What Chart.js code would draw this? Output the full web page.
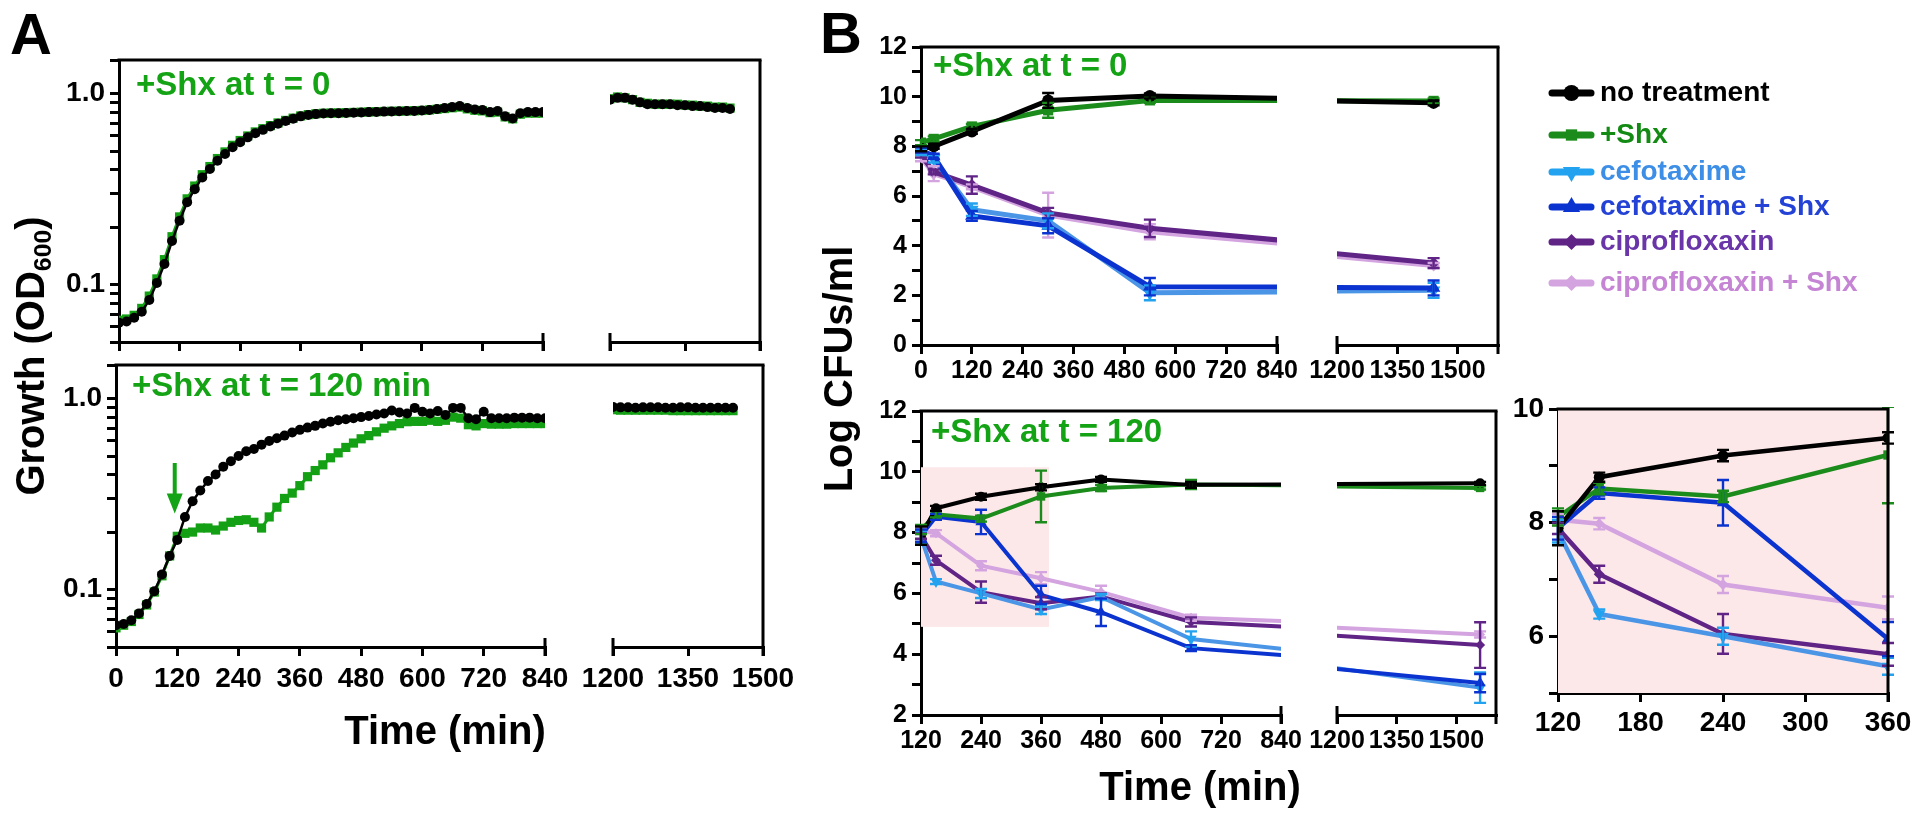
<!DOCTYPE html>
<html>
<head>
<meta charset="utf-8">
<script src="https://cdn.jsdelivr.net/npm/chart.js@4.4.0/dist/chart.umd.min.js"></script>
<style>
html, body { margin: 0; padding: 0; background: #fff; }
#wrap { position: relative; width: 1920px; height: 819px; overflow: hidden; }
#wrap canvas { position: absolute; left: 0; top: 0; }
.lbl { position: absolute; font-family: "Liberation Sans", Arial, sans-serif; font-weight: bold; white-space: nowrap; line-height: 1; }
.green { color: #14a314; }
</style>
</head>
<body>
<div id="wrap">
  <canvas id="aTop1"></canvas><canvas id="aTop2"></canvas>
  <canvas id="aBot1"></canvas><canvas id="aBot2"></canvas>
  <canvas id="bTop1"></canvas><canvas id="bTop2"></canvas>
  <canvas id="bBot1"></canvas><canvas id="bBot2"></canvas>
  <canvas id="inset"></canvas>

  <div class="lbl" style="left:10px;top:34px;font-size:58px;transform:translateY(-50%)">A</div>
  <div class="lbl" style="left:820px;top:33px;font-size:58px;transform:translateY(-50%)">B</div>
  <div class="lbl green" style="left:136px;top:83px;font-size:33px;transform:translateY(-50%)">+Shx at t = 0</div>
  <div class="lbl green" style="left:132px;top:384px;font-size:33px;transform:translateY(-50%)">+Shx at t = 120 min</div>
  <div class="lbl green" style="left:933px;top:64px;font-size:33px;transform:translateY(-50%)">+Shx at t = 0</div>
  <div class="lbl green" style="left:931px;top:430px;font-size:33px;transform:translateY(-50%)">+Shx at t = 120</div>
  <div class="lbl" style="left:30px;top:356px;font-size:40px;transform:translate(-50%,-50%) rotate(-90deg)">Growth (OD<span style="font-size:0.62em;position:relative;top:0.3em">600</span>)</div>
  <div class="lbl" style="left:445px;top:730px;font-size:40px;transform:translate(-50%,-50%)">Time (min)</div>
  <div class="lbl" style="left:838px;top:369px;font-size:40px;transform:translate(-50%,-50%) rotate(-90deg)">Log CFUs/ml</div>
  <div class="lbl" style="left:1200px;top:786px;font-size:40px;transform:translate(-50%,-50%)">Time (min)</div>
</div>

<script>
// ---------- A: growth curves (OD600), read every 15 min ----------
const growthTimes = [
  0, 15, 30, 45, 60, 75, 90, 105, 120, 135,
  150, 165, 180, 195, 210, 225, 240, 255, 270, 285,
  300, 315, 330, 345, 360, 375, 390, 405, 420, 435,
  450, 465, 480, 495, 510, 525, 540, 555, 570, 585,
  600, 615, 630, 645, 660, 675, 690, 705, 720, 735,
  750, 765, 780, 795, 810, 825, 840
];
const growthTimesLate = [1200, 1215, 1230, 1245, 1260, 1275, 1290, 1305, 1320, 1335, 1350, 1365, 1380, 1395, 1410, 1425, 1440];

// +Shx at t = 0
const odNoShxA = [
  0.063, 0.064, 0.067, 0.072, 0.083, 0.102, 0.128, 0.169, 0.216, 0.270,
  0.316, 0.364, 0.403, 0.445, 0.483, 0.524, 0.556, 0.590, 0.620, 0.646,
  0.673, 0.695, 0.718, 0.739, 0.760, 0.772, 0.781, 0.786, 0.789, 0.790,
  0.792, 0.795, 0.797, 0.800, 0.802, 0.805, 0.807, 0.808, 0.810, 0.812,
  0.815, 0.820, 0.830, 0.840, 0.850, 0.862, 0.840, 0.826, 0.820, 0.800,
  0.810, 0.760, 0.740, 0.790, 0.800, 0.800, 0.800
];
const odShxA = [
  0.065, 0.066, 0.069, 0.075, 0.087, 0.107, 0.135, 0.178, 0.226, 0.281,
  0.328, 0.376, 0.415, 0.457, 0.495, 0.536, 0.568, 0.600, 0.630, 0.655,
  0.680, 0.702, 0.724, 0.744, 0.764, 0.776, 0.784, 0.789, 0.791, 0.792,
  0.794, 0.797, 0.799, 0.802, 0.804, 0.806, 0.808, 0.809, 0.811, 0.813,
  0.816, 0.821, 0.828, 0.835, 0.843, 0.850, 0.832, 0.818, 0.812, 0.795,
  0.800, 0.755, 0.738, 0.780, 0.790, 0.790, 0.790
];
const odNoShxALate = [0.93, 0.95, 0.95, 0.93, 0.90, 0.88, 0.88, 0.88, 0.88, 0.87, 0.87, 0.86, 0.86, 0.85, 0.84, 0.84, 0.83];
const odShxALate   = [0.94, 0.96, 0.95, 0.93, 0.90, 0.89, 0.88, 0.88, 0.88, 0.88, 0.87, 0.87, 0.86, 0.86, 0.85, 0.85, 0.84];

// +Shx at t = 120 min
const odNoShxB = [
  0.065, 0.066, 0.069, 0.075, 0.084, 0.098, 0.120, 0.150, 0.182, 0.240,
  0.290, 0.330, 0.370, 0.400, 0.440, 0.470, 0.500, 0.530, 0.545, 0.574,
  0.600, 0.620, 0.640, 0.665, 0.686, 0.705, 0.720, 0.740, 0.757, 0.770,
  0.780, 0.790, 0.800, 0.810, 0.826, 0.836, 0.866, 0.846, 0.836, 0.894,
  0.853, 0.836, 0.860, 0.820, 0.894, 0.894, 0.790, 0.780, 0.853, 0.790,
  0.790, 0.790, 0.795, 0.795, 0.795, 0.790, 0.790
];
const odShxB = [
  0.063, 0.065, 0.068, 0.074, 0.083, 0.097, 0.118, 0.150, 0.190, 0.197,
  0.200, 0.210, 0.210, 0.205, 0.215, 0.225, 0.230, 0.232, 0.225, 0.210,
  0.240, 0.270, 0.300, 0.320, 0.350, 0.390, 0.420, 0.450, 0.490, 0.520,
  0.555, 0.585, 0.616, 0.640, 0.670, 0.700, 0.720, 0.740, 0.757, 0.760,
  0.760, 0.770, 0.760, 0.770, 0.800, 0.790, 0.730, 0.720, 0.740, 0.735,
  0.735, 0.735, 0.740, 0.740, 0.740, 0.740, 0.740
];
const odNoShxBLate = [0.905, 0.90, 0.90, 0.895, 0.90, 0.90, 0.90, 0.895, 0.895, 0.90, 0.90, 0.895, 0.895, 0.895, 0.895, 0.895, 0.895];
const odShxBLate   = [0.875, 0.87, 0.87, 0.87, 0.87, 0.87, 0.87, 0.87, 0.865, 0.865, 0.865, 0.865, 0.865, 0.865, 0.865, 0.865, 0.865];

const odTicks = [0.05, 0.06, 0.07, 0.08, 0.09, 0.1, 0.2, 0.3, 0.4, 0.5, 0.6, 0.7, 0.8, 0.9, 1, 1.5];
const arrowTime = 115;
const arrowOd = [0.46, 0.25];

// ---------- B: log CFUs/ml ----------
const seriesNames = ['no treatment', '+Shx', 'cefotaxime', 'cefotaxime + Shx', 'ciprofloxaxin', 'ciprofloxaxin + Shx'];

const cfuTimes0 = [0, 30, 120, 300, 540, 1440];
const noTreat0 = [7.9, 8.0, 8.6, 9.85, 10.03, 9.75];
const shx0     = [8.15, 8.3, 8.8, 9.45, 9.85, 9.83];
const cef0     = [7.75, 7.5, 5.45, 5.0, 2.1, 2.2];
const cefShx0  = [7.85, 7.6, 5.2, 4.8, 2.35, 2.3];
const cip0     = [7.65, 6.97, 6.44, 5.32, 4.7, 3.3];
const cipShx0  = [7.55, 6.9, 6.37, 5.23, 4.56, 3.2];
const noTreatErr0 = [0.1, 0.1, 0.1, 0.3, 0.1, 0.1];
const shxErr0     = [0.1, 0.1, 0.1, 0.3, 0.1, 0.1];
const cefErr0     = [0.1, 0.15, 0.25, 0.3, 0.3, 0.3];
const cefShxErr0  = [0.1, 0.1, 0.2, 0.3, 0.35, 0.3];
const cipErr0     = [0.1, 0.1, 0.35, 0.2, 0.35, 0.2];
const cipShxErr0  = [0.15, 0.3, 0.1, 0.9, 0.3, 0.1];

const cfuTimes120 = [120, 150, 240, 360, 480, 660, 1560];
const noTreat120 = [7.9, 8.8, 9.18, 9.49, 9.75, 9.57, 9.62];
const shx120     = [8.1, 8.6, 8.46, 9.19, 9.47, 9.58, 9.47];
const cef120     = [7.85, 6.39, 6.0, 5.47, 5.88, 4.5, 2.9];
const cefShx120  = [7.9, 8.52, 8.35, 5.95, 5.38, 4.2, 3.05];
const cip120     = [7.9, 7.09, 6.04, 5.68, 5.9, 5.06, 4.3];
const cipShx120  = [8.05, 7.98, 6.91, 6.5, 6.05, 5.2, 4.65];
const noTreatErr120 = [0.3, 0.08, 0.1, 0.1, 0.08, 0.1, 0.05];
const shxErr120     = [0.15, 0.1, 0.1, 0.85, 0.1, 0.15, 0.05];
const cefErr120     = [0.2, 0.08, 0.15, 0.15, 0.1, 0.25, 0.5];
const cefShxErr120  = [0.2, 0.1, 0.4, 0.3, 0.45, 0.1, 0.3];
const cipErr120     = [0.1, 0.15, 0.35, 0.2, 0.1, 0.15, 0.75];
const cipShxErr120  = [0.1, 0.1, 0.15, 0.2, 0.2, 0.1, 0.1];

// zoomed region (pink box)
const shadeTimes = [120, 376];
const shadeCfu = [4.9, 10.15];

// ---------- styles ----------
const W = 1920, H = 819;
const FONT = '"Liberation Sans", Arial, sans-serif';
const lineColors   = ['#000000', '#1b8c1b', '#4b95e6', '#0b33cf', '#5f2486', '#d3a4df'];
const markerColors = ['#000000', '#1b8c1b', '#22a2ef', '#0b33cf', '#5f2486', '#d3a4df'];
const legendText   = ['#000000', '#138a13', '#3d8ee6', '#2443d6', '#6a35a8', '#c584d4'];
const markerStyles = ['circle', 'rect', 'triangle', 'triangle', 'rectRot', 'rectRot'];
const markerRot    = [0, 0, 180, 0, 0, 0];
const drawOrder    = [0, 1, 3, 2, 4, 5];

Chart.defaults.color = '#000';
Chart.defaults.font.family = FONT;
Chart.defaults.font.weight = 'bold';

const pts = (xs, ys) => xs.map((x, i) => ({ x: x, y: ys[i] }));

function odSets(times, black, green) {
  return [
    { data: pts(times, black), borderColor: '#000', borderWidth: 2.5, pointStyle: 'circle', pointRadius: 5,
      pointBackgroundColor: '#000', pointBorderWidth: 0, order: 0 },
    { data: pts(times, green), borderColor: '#14a014', borderWidth: 3, pointStyle: 'rect', pointRadius: 6.5,
      pointBackgroundColor: '#14a014', pointBorderWidth: 0, order: 1 }
  ];
}

function cfuSets(times, vals, errs, lw, r) {
  return vals.map((v, i) => ({
    data: pts(times, v),
    errorBars: errs[i],
    borderColor: lineColors[i],
    borderWidth: lw,
    pointStyle: markerStyles[i],
    pointRotation: markerRot[i],
    pointRadius: markerStyles[i] === 'triangle' ? r * 1.3 : (markerStyles[i] === 'rect' ? r * 1.2 : r),
    pointBackgroundColor: markerColors[i],
    pointBorderWidth: 0,
    order: drawOrder[i]
  }));
}

// error bars, frame lines, shading, arrow, legend
const errorBarPlugin = {
  id: 'errorBars',
  afterDatasetsDraw(chart) {
    const { ctx, chartArea: a, scales: { x, y } } = chart;
    const metas = chart.getSortedVisibleDatasetMetas().slice().reverse();
    ctx.save();
    ctx.beginPath();
    ctx.rect(a.left - 10, a.top - 2, a.right - a.left + 20, a.bottom - a.top + 4);
    ctx.clip();
    metas.forEach(meta => {
      const ds = chart.data.datasets[meta.index];
      if (!ds.errorBars) return;
      ctx.strokeStyle = ds.pointBackgroundColor;
      ctx.lineWidth = 2.4;
      ds.data.forEach((p, j) => {
        const e = ds.errorBars[j];
        if (!e || p.x < x.min || p.x > x.max) return;
        const px = x.getPixelForValue(p.x);
        const y0 = y.getPixelForValue(p.y - e), y1 = y.getPixelForValue(p.y + e);
        ctx.beginPath();
        ctx.moveTo(px, y0); ctx.lineTo(px, y1);
        ctx.moveTo(px - 6, y0); ctx.lineTo(px + 6, y0);
        ctx.moveTo(px - 6, y1); ctx.lineTo(px + 6, y1);
        ctx.stroke();
      });
    });
    ctx.restore();
  }
};

const framePlugin = {
  id: 'frame',
  afterDraw(chart, args, o) {
    const { ctx, chartArea: a } = chart;
    ctx.save();
    ctx.strokeStyle = '#000';
    ctx.lineWidth = 3;
    ctx.beginPath();
    if (o.topTo) { ctx.moveTo(a.left - 1.5, a.top); ctx.lineTo(o.topTo + 1.5, a.top); }
    if (o.right) { ctx.moveTo(a.right, a.top); ctx.lineTo(a.right, a.bottom + 9); }
    if (o.capRight) { ctx.moveTo(a.right, a.bottom - 9); ctx.lineTo(a.right, a.bottom + 9); }
    if (o.capLeft) { ctx.moveTo(a.left, a.bottom - 9); ctx.lineTo(a.left, a.bottom + 9); }
    ctx.stroke();
    ctx.restore();
  }
};

const shadePlugin = {
  id: 'shade',
  beforeDatasetsDraw(chart, args, o) {
    if (!o.on) return;
    const { ctx, chartArea: a, scales: { x, y } } = chart;
    ctx.save();
    ctx.fillStyle = '#fde8e9';
    if (o.full) {
      ctx.fillRect(a.left, a.top, a.right - a.left, a.bottom - a.top);
    } else {
      const x0 = x.getPixelForValue(shadeTimes[0]), x1 = x.getPixelForValue(shadeTimes[1]);
      const y0 = y.getPixelForValue(shadeCfu[1]), y1 = y.getPixelForValue(shadeCfu[0]);
      ctx.fillRect(x0, y0, x1 - x0, y1 - y0);
    }
    ctx.restore();
  }
};

const arrowPlugin = {
  id: 'shxArrow',
  afterDatasetsDraw(chart, args, o) {
    if (!o.on) return;
    const { ctx, scales: { x, y } } = chart;
    const px = x.getPixelForValue(arrowTime);
    const y0 = y.getPixelForValue(arrowOd[0]), y1 = y.getPixelForValue(arrowOd[1]);
    ctx.save();
    ctx.strokeStyle = ctx.fillStyle = '#14a314';
    ctx.lineWidth = 4;
    ctx.beginPath(); ctx.moveTo(px, y0); ctx.lineTo(px, y1 - 18); ctx.stroke();
    ctx.beginPath(); ctx.moveTo(px - 8, y1 - 20); ctx.lineTo(px + 8, y1 - 20); ctx.lineTo(px, y1); ctx.closePath(); ctx.fill();
    ctx.restore();
  }
};

const legendPlugin = {
  id: 'cfuLegend',
  afterDraw(chart, args, o) {
    if (!o.rows) return;
    const ctx = chart.ctx;
    seriesNames.forEach((name, i) => {
      const yy = o.rows[i];
      ctx.save();
      ctx.strokeStyle = markerColors[i];
      ctx.fillStyle = markerColors[i];
      ctx.lineWidth = 7;
      ctx.lineCap = 'round';
      ctx.beginPath(); ctx.moveTo(o.x0, yy); ctx.lineTo(o.x1, yy); ctx.stroke();
      Chart.helpers.drawPoint(ctx, { pointStyle: markerStyles[i], rotation: markerRot[i], radius: markerStyles[i] === 'triangle' ? 10 : 8, borderWidth: 0 }, (o.x0 + o.x1) / 2, yy);
      ctx.fillStyle = legendText[i];
      ctx.font = 'bold 28px ' + FONT;
      ctx.textBaseline = 'middle';
      ctx.fillText(name, o.tx, yy);
      ctx.restore();
    });
  }
};

// one full-page canvas per axis segment; the plot box is fixed through padding
function makeChart(id, box, c) {
  const cv = document.getElementById(id);
  cv.width = W; cv.height = H;
  cv.style.width = W + 'px'; cv.style.height = H + 'px';
  const axisLine = { display: true, color: '#000', width: 3 };
  const tickMarks = { display: true, drawOnChartArea: false, drawTicks: true, tickLength: 9, tickWidth: 3, tickColor: '#000', lineWidth: 3, color: '#000' };
  const yw = c.showY ? c.yw : 0;
  return new Chart(cv, {
    type: 'line',
    data: { datasets: c.datasets },
    options: {
      responsive: false, animation: false, devicePixelRatio: 1, events: [],
      elements: { line: { tension: 0 } },
      layout: { autoPadding: false, padding: { left: box.l - yw, right: W - box.r, top: box.t, bottom: H - box.b - c.xh } },
      scales: {
        x: {
          type: 'linear', min: c.xMin, max: c.xMax,
          afterBuildTicks: s => { s.ticks = c.xTicks.map(v => ({ value: v })); },
          afterFit: s => { s.height = c.xh; },
          border: axisLine, grid: tickMarks,
          ticks: { autoSkip: false, maxRotation: 0, padding: c.xPad, font: { size: c.tickSize, weight: 'bold' },
                   callback: v => (c.xLabels ? String(v) : '') }
        },
        y: {
          type: c.yType, min: c.yMin, max: c.yMax, display: c.showY,
          afterBuildTicks: s => { s.ticks = c.yTicks.map(v => ({ value: v })); },
          afterFit: s => { s.width = yw; },
          border: axisLine, grid: tickMarks,
          ticks: { autoSkip: false, padding: 5, font: { size: c.tickSize, weight: 'bold' }, callback: c.yLabel }
        }
      },
      plugins: {
        legend: { display: false }, tooltip: { enabled: false },
        frame: c.frame || {}, shade: c.shade || {}, shxArrow: c.arrow || {}, cfuLegend: c.legend || {}
      }
    },
    plugins: [shadePlugin, errorBarPlugin, arrowPlugin, framePlugin, legendPlugin]
  });
}

const odLabel = v => (v === 0.1 ? '0.1' : (v === 1 ? '1.0' : ''));
const evenLabel = v => (v % 2 === 0 ? String(v) : '');
const ticks0to840 = [0, 120, 240, 360, 480, 600, 720, 840];
const lateTicks = [1200, 1350, 1500];

const odBase = { yType: 'logarithmic', yMin: 0.05, yMax: 1.5, yTicks: odTicks, yLabel: odLabel, yw: 62, tickSize: 28, xPad: 6 };

// A top
makeChart('aTop1', { l: 119, t: 60, r: 543, b: 342 }, Object.assign({}, odBase, {
  datasets: odSets(growthTimes, odNoShxA, odShxA), showY: true, xMin: 0, xMax: 840, xTicks: ticks0to840,
  xLabels: false, xh: 12, frame: { topTo: 760, capRight: true }
}));
makeChart('aTop2', { l: 610, t: 60, r: 760, b: 342 }, Object.assign({}, odBase, {
  datasets: odSets(growthTimesLate, odNoShxALate, odShxALate), showY: false, xMin: 1200, xMax: 1500, xTicks: lateTicks,
  xLabels: false, xh: 12, frame: { right: true, capLeft: true }
}));
// A bottom
makeChart('aBot1', { l: 116, t: 365, r: 545, b: 647 }, Object.assign({}, odBase, {
  datasets: odSets(growthTimes, odNoShxB, odShxB), showY: true, xMin: 0, xMax: 840, xTicks: ticks0to840,
  xLabels: true, xh: 45, frame: { topTo: 763, capRight: true }, arrow: { on: true }
}));
makeChart('aBot2', { l: 613, t: 365, r: 763, b: 647 }, Object.assign({}, odBase, {
  datasets: odSets(growthTimesLate, odNoShxBLate, odShxBLate), showY: false, xMin: 1200, xMax: 1500, xTicks: lateTicks,
  xLabels: true, xh: 45, frame: { right: true, capLeft: true }
}));

// B top
const vals0 = [noTreat0, shx0, cef0, cefShx0, cip0, cipShx0];
const errs0 = [noTreatErr0, shxErr0, cefErr0, cefShxErr0, cipErr0, cipShxErr0];
const cfuTop = { yType: 'linear', yMin: 0, yMax: 12, yTicks: [0,1,2,3,4,5,6,7,8,9,10,11,12], yLabel: evenLabel, yw: 52, tickSize: 25, xPad: 2, xh: 40, xLabels: true };
makeChart('bTop1', { l: 921, t: 47, r: 1277, b: 345 }, Object.assign({}, cfuTop, {
  datasets: cfuSets(cfuTimes0, vals0, errs0, 5, 6), showY: true, xMin: 0, xMax: 840, xTicks: ticks0to840,
  frame: { topTo: 1498, capRight: true }
}));
makeChart('bTop2', { l: 1337, t: 47, r: 1498, b: 345 }, Object.assign({}, cfuTop, {
  datasets: cfuSets(cfuTimes0, vals0, errs0, 5, 6), showY: false, xMin: 1200, xMax: 1600, xTicks: lateTicks,
  frame: { right: true, capLeft: true },
  legend: { rows: [93, 135, 172, 207, 242, 283], x0: 1552, x1: 1591, tx: 1600 }
}));

// B bottom
const vals120 = [noTreat120, shx120, cef120, cefShx120, cip120, cipShx120];
const errs120 = [noTreatErr120, shxErr120, cefErr120, cefShxErr120, cipErr120, cipShxErr120];
const cfuBot = { yType: 'linear', yMin: 2, yMax: 12, yTicks: [2,3,4,5,6,7,8,9,10,11,12], yLabel: evenLabel, yw: 52, tickSize: 25, xPad: 2, xh: 40, xLabels: true };
makeChart('bBot1', { l: 921, t: 411, r: 1281, b: 715 }, Object.assign({}, cfuBot, {
  datasets: cfuSets(cfuTimes120, vals120, errs120, 4, 5), showY: true, xMin: 120, xMax: 840, xTicks: [120, 240, 360, 480, 600, 720, 840],
  frame: { topTo: 1496, capRight: true }, shade: { on: true }
}));
makeChart('bBot2', { l: 1337, t: 411, r: 1496, b: 715 }, Object.assign({}, cfuBot, {
  datasets: cfuSets(cfuTimes120, vals120, errs120, 4, 5), showY: false, xMin: 1200, xMax: 1600, xTicks: lateTicks,
  frame: { right: true, capLeft: true }
}));

// inset: first four hours of B bottom
makeChart('inset', { l: 1558, t: 409, r: 1888, b: 693 }, {
  datasets: cfuSets(cfuTimes120, vals120, errs120, 4.5, 5.5), showY: true, yType: 'linear', yMin: 5, yMax: 10,
  yTicks: [5, 6, 7, 8, 9, 10], yLabel: v => (v === 5 || v === 7 || v === 9 ? '' : String(v)), yw: 52,
  xMin: 120, xMax: 360, xTicks: [120, 180, 240, 300, 360], xLabels: true, xh: 45, xPad: 4, tickSize: 28,
  frame: { topTo: 1888, right: true }, shade: { on: true, full: true }
});
</script>
</body>
</html>
